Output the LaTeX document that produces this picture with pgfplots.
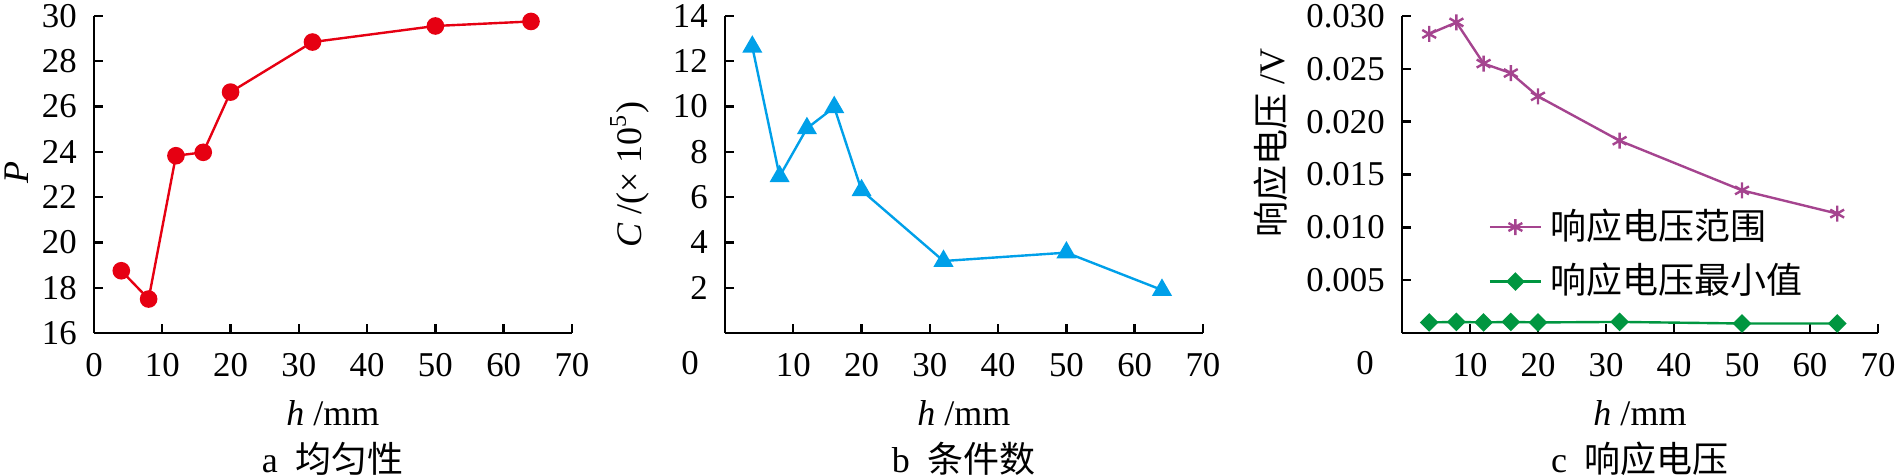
\documentclass[border=0pt]{standalone}
\usepackage{fontspec}
\setmainfont{Liberation Serif}
\newfontfamily\cjk{Noto Sans CJK SC}
\usepackage{pgfplots}
\pgfplotsset{compat=1.18}
\definecolor{cred}{RGB}{230,0,18}
\definecolor{cblue}{RGB}{0,160,233}
\definecolor{cpurp}{RGB}{165,68,143}
\definecolor{cgreen}{RGB}{0,150,64}

\pgfplotsset{panel/.style={
  scale only axis, width=119.5pt, height=79.25pt,
  anchor=south west, clip=false, enlargelimits=false,
  axis lines=left, axis line style={-, line width=0.6pt},
  tick align=inside, major tick length=2.2pt,
  tick style={line width=0.6pt, black},
  every tick label/.append style={font=\fontsize{8.7}{9}\selectfont},
  /pgf/number format/assume math mode=true,
  xticklabel style={yshift=-1.5pt},
  yticklabel style={xshift=-0.8pt},
  xmin=0, xmax=70,
  xlabel={\textit{h} /mm},
  xlabel style={font=\fontsize{9}{10}\selectfont, at={(axis description cs:0.5,0)}, anchor=center, yshift=-20pt},
  ylabel style={font=\fontsize{9}{10}\selectfont, anchor=center},
}}

\begin{document}
\begin{tikzpicture}
\useasboundingbox (0,0) rectangle (475pt,118.75pt);

% a
\begin{axis}[panel, at={(23.5pt,35.5pt)},
  ymin=16, ymax=30, ytick={16,18,...,30}, xtick={0,10,...,70},
  ylabel={\textit{P}}, ylabel style={at={(axis description cs:-0.162,0.505)}}]
\addplot[cred, line width=0.6pt, mark=*, mark size=1.9pt] coordinates
 {(4,18.75) (8,17.5) (12,23.83) (16,23.98) (20,26.64) (32,28.85) (50,29.56) (64,29.76)};
\node[font=\fontsize{9}{10}\selectfont] at (rel axis cs:0.5,0) [yshift=-31.5pt] {a\enspace{\cjk 均匀性}};
\end{axis}

% b
\begin{axis}[panel, at={(181.25pt,35.5pt)},
  ymin=0, ymax=14, ytick={2,4,...,14}, xtick={10,20,...,70},
  ylabel={\textit{C} /(× 10\textsuperscript{5})}, ylabel style={at={(axis description cs:-0.2,0.5)}}]
\addplot[cblue, line width=0.6pt, mark=triangle*, mark size=2.3pt] coordinates
 {(4,12.64) (8,6.92) (12,9.04) (16,9.97) (20,6.3) (32,3.18) (50,3.55) (64,1.9)};
\node[font=\fontsize{8.7}{9}\selectfont, anchor=east] at (rel axis cs:0,0) [xshift=-3pt, yshift=-7.5pt] {0};
\node[font=\fontsize{9}{10}\selectfont] at (rel axis cs:0.5,0) [yshift=-31.5pt] {b\enspace{\cjk 条件数}};
\end{axis}

% c
\begin{axis}[panel, at={(350.5pt,35.5pt)}, width=119pt,
  ymin=0, ymax=0.03, ytick={0.005,0.01,0.015,0.02,0.025,0.03},
  scaled y ticks=false,
  yticklabel style={/pgf/number format/.cd, fixed, fixed zerofill, precision=3},
  xtick={10,20,...,70},
  ylabel={{\cjk 响应电压} /V}, ylabel style={at={(axis description cs:-0.275,0.6)}},
  legend style={draw=none, fill=none, at={(0.155,0.445)}, anchor=north west,
    font=\fontsize{9}{10}\selectfont\cjk, row sep=0.5pt,
    /tikz/every even column/.append style={column sep=2pt}},
  legend cell align=left,
  legend image code/.code={\draw[mark repeat=2, mark phase=2] plot coordinates {(0cm,0cm) (0.225cm,0cm) (0.45cm,0cm)};}]
\addplot[cpurp, line width=0.6pt, mark=asterisk, mark size=2pt, mark options={line width=0.6pt}] coordinates
 {(4,0.0283) (8,0.0294) (12,0.0255) (16,0.0246) (20,0.0224) (32,0.0182) (50,0.0135) (64,0.0113)};
\addlegendentry{响应电压范围}
\addplot[cgreen, line width=0.6pt, mark=square*, mark size=1.35pt, mark options={rotate=45}] coordinates
 {(4,0.0010) (8,0.00105) (12,0.0010) (16,0.00105) (20,0.0010) (32,0.00105) (50,0.0009) (64,0.0009)};
\addlegendentry{响应电压最小值}
\node[font=\fontsize{8.7}{9}\selectfont, anchor=east] at (rel axis cs:0,0) [xshift=-3.5pt, yshift=-7.5pt] {0};
\node[font=\fontsize{9}{10}\selectfont] at (rel axis cs:0.5,0) [yshift=-31.5pt] {c\enspace{\cjk 响应电压}};
\end{axis}
\end{tikzpicture}
\end{document}
